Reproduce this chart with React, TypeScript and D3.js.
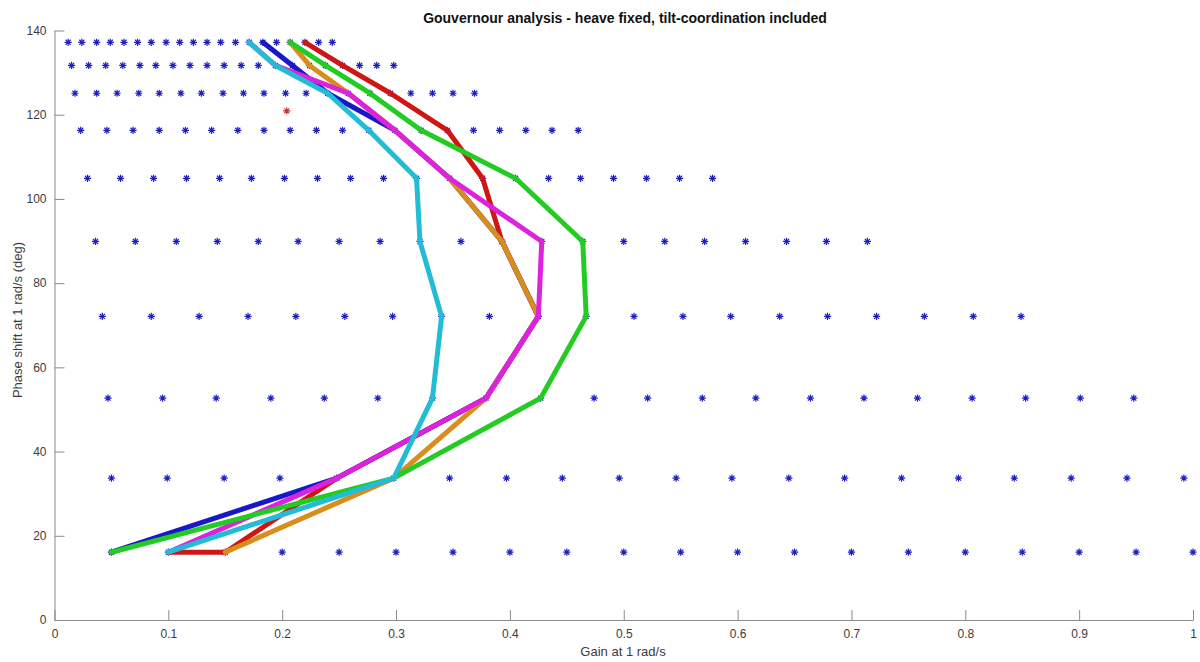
import * as d3 from "d3"
import { useRef, useEffect } from "react"

// phase rows of the grid (deg)
const phaseRows = [16.1, 33.7, 52.7, 72.1, 89.9, 104.9, 116.3, 125.1, 131.7, 137.2]

// gains of the blue grid markers, one list per phase row
const gainRow16 = [0.05, 0.10, 0.15, 0.20, 0.25, 0.30, 0.35, 0.40, 0.45, 0.50, 0.55, 0.60, 0.65, 0.70, 0.75, 0.80, 0.85, 0.90, 0.95, 1.00]
const gainRow34 = [0.050, 0.099, 0.149, 0.198, 0.248, 0.298, 0.347, 0.397, 0.446, 0.496, 0.546, 0.595, 0.645, 0.694, 0.744, 0.794, 0.843, 0.893, 0.942, 0.992]
const gainRow53 = [0.047, 0.095, 0.142, 0.190, 0.237, 0.284, 0.332, 0.379, 0.427, 0.474, 0.521, 0.569, 0.616, 0.664, 0.711, 0.758, 0.806, 0.853, 0.901, 0.948]
const gainRow72 = [0.042, 0.085, 0.127, 0.170, 0.212, 0.255, 0.297, 0.340, 0.382, 0.425, 0.467, 0.509, 0.552, 0.594, 0.637, 0.679, 0.722, 0.764, 0.807, 0.849]
const gainRow90 = [0.036, 0.071, 0.107, 0.143, 0.179, 0.214, 0.250, 0.286, 0.321, 0.357, 0.393, 0.428, 0.464, 0.500, 0.536, 0.571, 0.607, 0.643, 0.678, 0.714]
const gainRow105 = [0.029, 0.058, 0.087, 0.116, 0.145, 0.173, 0.202, 0.231, 0.260, 0.289, 0.318, 0.347, 0.376, 0.405, 0.434, 0.462, 0.491, 0.520, 0.549, 0.578]
const gainRow116 = [0.023, 0.046, 0.069, 0.092, 0.115, 0.138, 0.161, 0.184, 0.207, 0.230, 0.253, 0.276, 0.299, 0.322, 0.345, 0.368, 0.391, 0.414, 0.437, 0.460]
const gainRow125 = [0.018, 0.037, 0.055, 0.074, 0.092, 0.111, 0.129, 0.148, 0.166, 0.184, 0.203, 0.221, 0.240, 0.258, 0.277, 0.295, 0.313, 0.332, 0.350, 0.369]
const gainRow132 = [0.015, 0.030, 0.045, 0.060, 0.075, 0.089, 0.104, 0.119, 0.134, 0.149, 0.164, 0.179, 0.194, 0.209, 0.224, 0.238, 0.253, 0.268, 0.283, 0.298]
const gainRow137 = [0.012, 0.024, 0.037, 0.049, 0.061, 0.073, 0.085, 0.098, 0.110, 0.122, 0.134, 0.146, 0.159, 0.171, 0.183, 0.195, 0.207, 0.220, 0.232, 0.244]

const gainRows = [gainRow16, gainRow34, gainRow53, gainRow72, gainRow90, gainRow105, gainRow116, gainRow125, gainRow132, gainRow137]

// single red marker
const redMark = [0.204, 120.9]

// paths
const redGain = [0.10, 0.15, 0.248, 0.379, 0.425, 0.393, 0.376, 0.345, 0.295, 0.253, 0.220]
const redPhase = [16.1, 16.1, 33.7, 52.7, 72.1, 89.9, 104.9, 116.3, 125.1, 131.7, 137.2]
const blueGain = [0.05, 0.248, 0.379, 0.425, 0.393, 0.347, 0.299, 0.240, 0.209, 0.183]
const orangeGain = [0.15, 0.298, 0.379, 0.425, 0.393, 0.347, 0.299, 0.258, 0.224, 0.207]
const magentaGain = [0.10, 0.248, 0.379, 0.425, 0.428, 0.347, 0.299, 0.258, 0.194, 0.171]
const greenGain = [0.05, 0.298, 0.427, 0.467, 0.464, 0.405, 0.322, 0.277, 0.238, 0.207]
const cyanGain = [0.10, 0.298, 0.332, 0.340, 0.321, 0.318, 0.276, 0.240, 0.194, 0.171]

const series = [
  { color: "#d01515", gain: redGain, phase: redPhase },
  { color: "#1818c8", gain: blueGain, phase: phaseRows },
  { color: "#d98e1c", gain: orangeGain, phase: phaseRows },
  { color: "#dd22dd", gain: magentaGain, phase: phaseRows },
  { color: "#22cc22", gain: greenGain, phase: phaseRows },
  { color: "#22bcd6", gain: cyanGain, phase: phaseRows },
]

const xTicks = [0, 0.1, 0.2, 0.3, 0.4, 0.5, 0.6, 0.7, 0.8, 0.9, 1]
const yTicks = [0, 20, 40, 60, 80, 100, 120, 140]

export default function App() {
  const ref = useRef<SVGSVGElement>(null)

  useEffect(() => {
    const width = 1200
    const height = 662
    const left = 54.5
    const right = 1193
    const top = 30.5
    const bottom = 620

    const x = d3.scaleLinear().domain([0, 1]).range([left, right])
    const y = d3.scaleLinear().domain([0, 140]).range([bottom, top])

    const svg = d3.select(ref.current)
    svg.selectAll("*").remove()
    svg.attr("width", width).attr("height", height)

    svg.append("rect").attr("width", width).attr("height", height).attr("fill", "#fff")

    const font = "'Liberation Sans', Arial, Helvetica, sans-serif"

    // axes
    const xAxis = svg.append("g")
      .attr("transform", `translate(0,${bottom})`)
      .call(d3.axisBottom(x).tickValues(xTicks).tickFormat(d3.format("~g")).tickSizeInner(-10).tickSizeOuter(0).tickPadding(9))
    const yAxis = svg.append("g")
      .attr("transform", `translate(${left},0)`)
      .call(d3.axisLeft(y).tickValues(yTicks).tickSizeInner(-10).tickSizeOuter(0).tickPadding(8))
    for (const g of [xAxis, yAxis]) {
      g.select(".domain").attr("stroke", "#8a8a8a").attr("stroke-width", 1)
      g.selectAll(".tick line").attr("stroke", "#8a8a8a")
      g.selectAll(".tick text").attr("fill", "#3c3c3c").attr("font-size", 12).attr("font-family", font)
    }

    // grid markers
    const star = (r: number) => {
      const a = r * 0.7
      return `M${-r},0H${r}M0,${-r}V${r}M${-a},${-a}L${a},${a}M${-a},${a}L${a},${-a}`
    }
    const pts = phaseRows.flatMap((p, i) => gainRows[i].map((g) => [g, p]))
    svg.append("g")
      .selectAll("path")
      .data(pts)
      .join("path")
      .attr("transform", (d) => `translate(${x(d[0])},${y(d[1])})`)
      .attr("d", star(3.6))
      .attr("stroke", "#2020c0")
      .attr("stroke-width", 1.2)
      .attr("fill", "none")

    svg.append("path")
      .attr("transform", `translate(${x(redMark[0])},${y(redMark[1])})`)
      .attr("d", star(3.6))
      .attr("stroke", "#cc3030")
      .attr("stroke-width", 1.1)

    // paths
    const line = d3.line<number[]>().x((d) => x(d[0])).y((d) => y(d[1]))
    svg.append("g")
      .selectAll("path")
      .data(series)
      .join("path")
      .attr("d", (s) => line(s.gain.map((g, i) => [g, s.phase[i]])))
      .attr("fill", "none")
      .attr("stroke", (s) => s.color)
      .attr("stroke-width", 5)
      .attr("stroke-linejoin", "round")
      .attr("stroke-linecap", "round")

    // labels
    svg.append("text")
      .attr("x", 625).attr("y", 23)
      .attr("text-anchor", "middle")
      .attr("font-family", font).attr("font-size", 14).attr("font-weight", "bold")
      .attr("fill", "#111")
      .text("Gouvernour analysis - heave fixed, tilt-coordination included")

    svg.append("text")
      .attr("x", 623).attr("y", 656)
      .attr("text-anchor", "middle")
      .attr("font-family", font).attr("font-size", 13)
      .attr("fill", "#3c3c3c")
      .text("Gain at 1 rad/s")

    svg.append("text")
      .attr("transform", `translate(22,320) rotate(-90)`)
      .attr("text-anchor", "middle")
      .attr("font-family", font).attr("font-size", 13)
      .attr("fill", "#3c3c3c")
      .text("Phase shift at 1 rad/s (deg)")
  }, [])

  return (
    <div style={{ position: "absolute", left: 0, top: 0 }}>
      <svg ref={ref}></svg>
    </div>
  )
}
